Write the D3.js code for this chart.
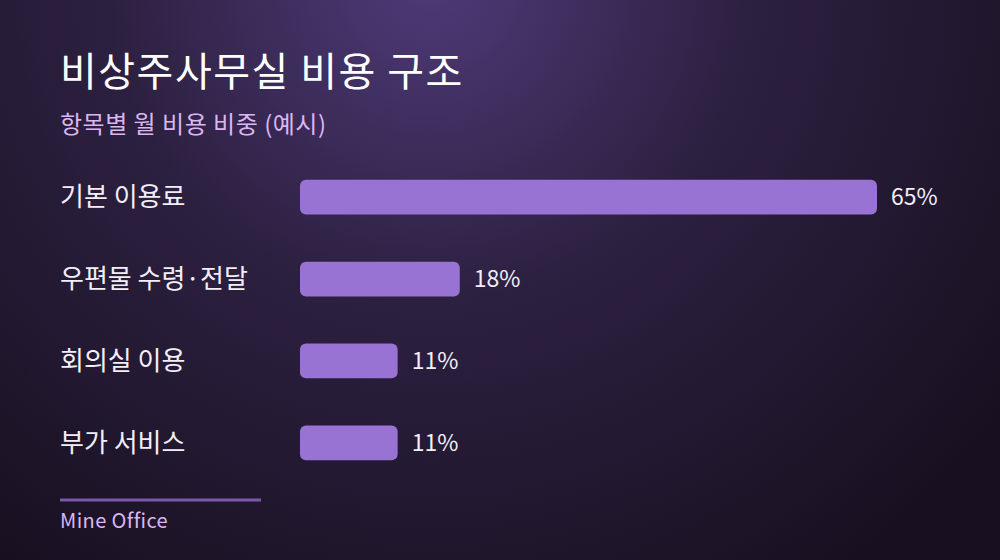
<!DOCTYPE html>
<html><head><meta charset="utf-8">
<script src="https://cdn.jsdelivr.net/npm/d3@7"></script>
<style>html,body{margin:0;padding:0;background:#1b1324;}svg{display:block;}</style>
</head><body>
<script>
const categories = ["기본 이용료", "우편물 수령·전달", "회의실 이용", "부가 서비스"];
const values = [65, 18, 11, 11];
const valueLabels = ["65%", "18%", "11%", "11%"];
const title = "비상주사무실 비용 구조";
const subtitle = "항목별 월 비용 비중 (예시)";
const source = "Mine Office";

const W = 1000, H = 560;
const font = "'Noto Sans CJK KR', 'Noto Sans', sans-serif";
const svg = d3.select("body").append("svg").attr("width", W).attr("height", H);
const defs = svg.append("defs");
const rg = defs.append("radialGradient").attr("id","bg")
  .attr("gradientUnits","userSpaceOnUse").attr("cx",430).attr("cy",-20).attr("r",720);
rg.append("stop").attr("offset","0%").attr("stop-color","#4e3a78");
rg.append("stop").attr("offset","45%").attr("stop-color","#2c2040");
rg.append("stop").attr("offset","100%").attr("stop-color","#181020");
svg.append("rect").attr("width",W).attr("height",H).attr("fill","url(#bg)");

svg.append("text").attr("x",60).attr("y",86).text(title)
  .attr("fill","#ffffff").attr("font-family",font).attr("font-size",40).attr("font-weight",400)
  .attr("letter-spacing",1.5);
svg.append("text").attr("x",60).attr("y",133).text(subtitle)
  .attr("fill","#dcb6f2").attr("font-family",font).attr("font-size",24).attr("letter-spacing",0.5);

const x = d3.scaleLinear().domain([0, 65]).range([300, 877]);
const y = d3.scaleBand().domain(categories).range([156, 484]).paddingInner(0.575).paddingOuter(0.29);

const g = svg.append("g");
g.selectAll("rect.bar").data(categories).join("rect").attr("class","bar")
  .attr("x", x(0)).attr("y", d => y(d)).attr("height", y.bandwidth())
  .attr("width", (d,i) => x(values[i]) - x(0)).attr("rx",6)
  .attr("fill","#9873d3");
g.selectAll("text.cat").data(categories).join("text").attr("class","cat")
  .attr("x",60).attr("y", d => y(d) + y.bandwidth()/2).attr("dy","0.35em")
  .text(d => d).attr("fill","#f3eef8").attr("font-family",font).attr("font-size",26);
g.selectAll("text.val").data(categories).join("text").attr("class","val")
  .attr("x", (d,i) => x(values[i]) + 14).attr("y", d => y(d) + y.bandwidth()/2).attr("dy","0.35em")
  .text((d,i) => valueLabels[i]).attr("fill","#f3eef8").attr("font-family",font).attr("font-size",23);

svg.append("line").attr("x1",60).attr("x2",261).attr("y1",500).attr("y2",500)
  .attr("stroke","#7a58a8").attr("stroke-width",3);
svg.append("text").attr("x",60).attr("y",528).text(source)
  .attr("fill","#dcb6f2").attr("font-family",font).attr("font-size",20).attr("letter-spacing",0.4);
</script>
</body></html>
